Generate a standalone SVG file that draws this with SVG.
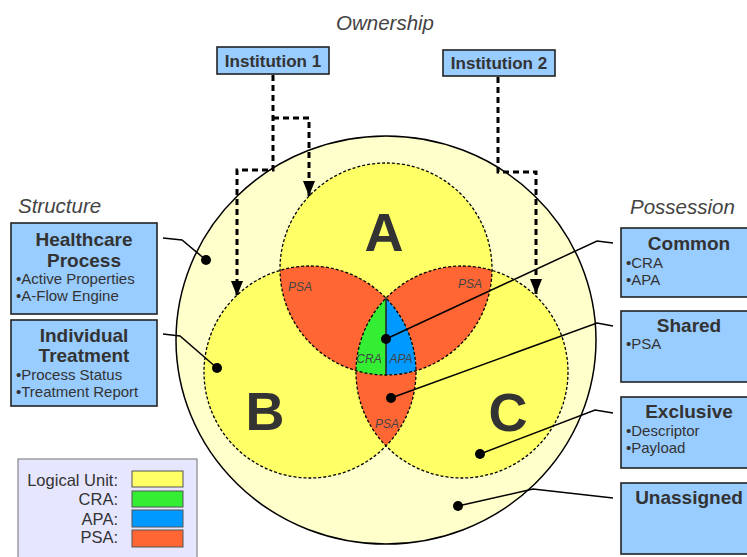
<svg xmlns="http://www.w3.org/2000/svg" width="747" height="557" viewBox="0 0 747 557">
<defs>
<style>
.t{font-family:"Liberation Sans",Arial,sans-serif;fill:#333}
.ttl{font-weight:bold;font-size:19px;text-anchor:middle}
.bul{font-size:15px}
.hdr{font-style:italic;font-size:20.5px;fill:#444}
.box{fill:#99ccff;stroke:#222;stroke-width:1.6}
.big{font-weight:bold;font-size:54px;text-anchor:middle}
.sm{font-style:italic;font-size:12px;text-anchor:middle;fill:#444}
.dot{fill:none;stroke:#000;stroke-width:1.3;stroke-dasharray:3 2}
.lead{fill:none;stroke:#000;stroke-width:1.5}
.own{fill:none;stroke:#000;stroke-width:3;stroke-dasharray:6 4}
.psa{fill:#ff6633}
.leg{font-size:16.5px;text-anchor:end}
</style>
<marker id="arr" markerUnits="userSpaceOnUse" markerWidth="16" markerHeight="12" refX="15" refY="6" orient="auto">
<path d="M0,0 L15,6 L0,12 Z" fill="#000"/>
</marker>
</defs>
<rect width="747" height="557" fill="#fff"/>

<g id="unassigned-area">
<ellipse cx="386" cy="340" rx="210" ry="204" fill="#ffffcc" stroke="#000" stroke-width="1.5"/>
</g>

<g id="units">
<circle cx="386" cy="269" r="106" fill="#ffff66"/>
<circle cx="310" cy="372" r="106" fill="#ffff66"/>
<circle cx="462" cy="372" r="106" fill="#ffff66"/>
<path class="psa" d="M280,270.3 A106,106 0 0 1 386,298.1 A106,106 0 0 0 356,370.7 A106,106 0 0 1 280,270.3 Z"/>
<path class="psa" d="M492,270.3 A106,106 0 0 0 386,298.1 A106,106 0 0 1 416,370.7 A106,106 0 0 0 492,270.3 Z"/>
<path class="psa" d="M356,370.7 A106,106 0 0 0 416,370.7 A106,106 0 0 1 386,445.9 A106,106 0 0 1 356,370.7 Z"/>
<path fill="#33ee33" d="M386,298.1 A106,106 0 0 0 356,370.7 A106,106 0 0 0 386,375 Z"/>
<path fill="#0099ff" d="M386,298.1 L386,375 A106,106 0 0 0 416,370.7 A106,106 0 0 0 386,298.1 Z"/>
<line x1="386" y1="298.1" x2="386" y2="375" stroke="#222" stroke-width="1.5"/>
<circle class="dot" cx="386" cy="269" r="106"/>
<circle class="dot" cx="310" cy="372" r="106"/>
<circle class="dot" cx="462" cy="372" r="106"/>
<text class="t big" x="384" y="251">A</text>
<text class="t big" x="265" y="430">B</text>
<text class="t big" x="508" y="431">C</text>
<text class="t sm" x="300" y="291">PSA</text>
<text class="t sm" x="470" y="288">PSA</text>
<text class="t sm" x="369" y="363">CRA</text>
<text class="t sm" x="401" y="363">APA</text>
<text class="t sm" x="387" y="428">PSA</text>
</g>

<text class="t hdr" x="385" y="30" text-anchor="middle">Ownership</text>
<text class="t hdr" x="18" y="213">Structure</text>
<text class="t hdr" x="630" y="214">Possession</text>

<g id="institution1">
<rect class="box" x="217" y="47" width="112" height="27"/>
<text class="t" x="273" y="67" font-weight="bold" font-size="17" text-anchor="middle">Institution 1</text>
</g>
<g id="institution2">
<rect class="box" x="443" y="50" width="112" height="26"/>
<text class="t" x="499" y="69" font-weight="bold" font-size="17" text-anchor="middle">Institution 2</text>
</g>

<g id="healthcare-process">
<rect class="box" x="11" y="223" width="146" height="91"/>
<text class="t ttl" x="84" y="246">Healthcare</text>
<text class="t ttl" x="84" y="267">Process</text>
<text class="t bul" x="16" y="284">•Active Properties</text>
<text class="t bul" x="16" y="301">•A-Flow Engine</text>
</g>
<g id="individual-treatment">
<rect class="box" x="11" y="320" width="146" height="86"/>
<text class="t ttl" x="84" y="342">Individual</text>
<text class="t ttl" x="84" y="362">Treatment</text>
<text class="t bul" x="16" y="380">•Process Status</text>
<text class="t bul" x="16" y="397">•Treatment Report</text>
</g>

<g id="common">
<rect class="box" x="621" y="228" width="136" height="69"/>
<text class="t ttl" x="689" y="250">Common</text>
<text class="t bul" x="626" y="268">•CRA</text>
<text class="t bul" x="626" y="285">•APA</text>
</g>
<g id="shared">
<rect class="box" x="621" y="311" width="136" height="71"/>
<text class="t ttl" x="689" y="332">Shared</text>
<text class="t bul" x="626" y="349">•PSA</text>
</g>
<g id="exclusive">
<rect class="box" x="621" y="397" width="136" height="71"/>
<text class="t ttl" x="689" y="418">Exclusive</text>
<text class="t bul" x="626" y="436">•Descriptor</text>
<text class="t bul" x="626" y="453">•Payload</text>
</g>
<g id="unassigned">
<rect class="box" x="621" y="483" width="136" height="71"/>
<text class="t ttl" x="689" y="504">Unassigned</text>
</g>

<g id="legend">
<rect x="18" y="459" width="179" height="110" fill="#e6e6ff" stroke="#888" stroke-width="1.2"/>
<text class="t leg" x="118" y="486">Logical Unit:</text>
<text class="t leg" x="118" y="505">CRA:</text>
<text class="t leg" x="118" y="525">APA:</text>
<text class="t leg" x="118" y="543">PSA:</text>
<rect x="132" y="471" width="51" height="16" fill="#ffff66" stroke="#555"/>
<rect x="132" y="491" width="51" height="16" fill="#33ee33" stroke="#555"/>
<rect x="132" y="510" width="51" height="17" fill="#0099ff" stroke="#555"/>
<rect x="132" y="530" width="51" height="17" fill="#ff6633" stroke="#555"/>
</g>

<g id="connectors">
<path class="own" d="M273,75 V170 H237 V296" marker-end="url(#arr)"/>
<path class="own" d="M273,118 H309 V196" marker-end="url(#arr)"/>
<path class="own" d="M498,77 V172 H536 V294" marker-end="url(#arr)"/>
<path class="lead" d="M163,238 L182,240 L206,260"/>
<circle cx="206" cy="260" r="5"/>
<path class="lead" d="M163,334 L180,336 L217,368"/>
<circle cx="217" cy="368" r="5"/>
<path class="lead" d="M613,243 L597,241 L386,339"/>
<circle cx="386" cy="339" r="5"/>
<path class="lead" d="M613,326 L597,323 L391,398"/>
<circle cx="391" cy="398" r="5"/>
<path class="lead" d="M613,413 L595,410 L480,454"/>
<circle cx="480" cy="454" r="5"/>
<path class="lead" d="M613,498 L533,489 L458,506"/>
<circle cx="458" cy="506" r="5"/>
</g>
</svg>
